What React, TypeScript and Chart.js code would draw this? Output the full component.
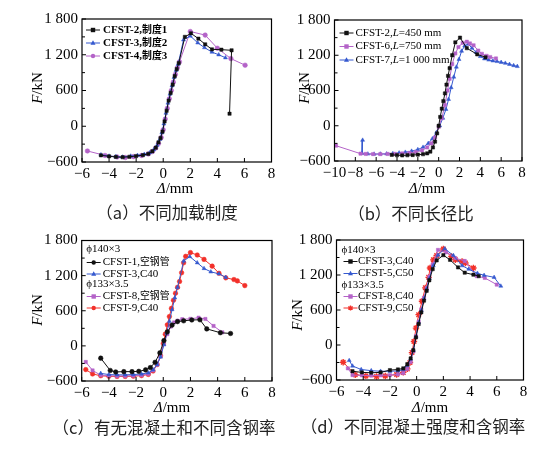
import React, { useEffect, useRef } from 'react';
import { Chart, registerables } from 'chart.js';

Chart.register(...registerables);

const SERIF = '"Liberation Serif", "Times New Roman", "Noto Sans CJK SC", serif';
const CJK = '"Noto Sans CJK SC", sans-serif';

const BLACK = '#111111';
const BLUE = '#3559cf';
const PURPLE = '#b463c8';
const RED = '#f2302a';

type Pt = [number, number];

// ---------- (a) 不同加载制度 ----------
const A_CFST2: Pt[] = [
  [-4.6, -488], [-4.0, -505], [-3.5, -515], [-3.0, -520], [-2.5, -512], [-2.0, -500], [-1.5, -485],
  [-1.1, -462], [-0.8, -420], [-0.55, -360], [-0.35, -270], [-0.2, -200], [-0.05, -90], [0.1, 80],
  [0.25, 260], [0.4, 430], [0.55, 560], [0.7, 700], [0.85, 840], [1.0, 960], [1.15, 1060],
  [1.6, 1500], [2.05, 1560], [2.6, 1470], [3.1, 1375], [3.6, 1290], [4.3, 1285], [5.05, 1275], [4.9, 210],
];
const A_CFST3: Pt[] = [
  [-4.6, -478], [-4.0, -500], [-3.5, -510], [-3.0, -515], [-2.4, -500], [-1.9, -488], [-1.4, -470],
  [-1.0, -445], [-0.7, -395], [-0.45, -320], [-0.25, -220], [-0.1, -110], [0.05, 40], [0.2, 220],
  [0.35, 390], [0.5, 540], [0.65, 680], [0.8, 820], [0.95, 940], [1.1, 1040], [1.5, 1450],
  [2.0, 1515], [2.55, 1400], [3.05, 1320], [3.6, 1245], [4.1, 1200], [4.6, 1150],
];
const A_CFST4: Pt[] = [
  [-5.6, -415], [-4.3, -490], [-3.4, -515], [-2.8, -525], [-2.2, -510], [-1.6, -490], [-1.1, -465],
  [-0.8, -425], [-0.55, -365], [-0.35, -290], [-0.15, -190], [0.0, -60], [0.15, 120], [0.3, 300],
  [0.45, 460], [0.6, 600], [0.75, 740], [0.9, 870], [1.05, 980], [1.2, 1080], [2.0, 1590],
  [3.1, 1530], [4.0, 1310], [5.0, 1135], [6.05, 1025],
];

// ---------- (b) 不同长径比 ----------
const B_CFST2: Pt[] = [
  [-4.5, -495], [-4.0, -502], [-3.5, -505], [-3.0, -502], [-2.5, -498], [-2.0, -492], [-1.5, -485],
  [-1.1, -470], [-0.8, -440], [-0.55, -370], [-0.35, -270], [-0.15, -130], [0.0, 0], [0.15, 150],
  [0.3, 290], [0.45, 420], [0.6, 550], [0.75, 700], [0.9, 850], [1.05, 980], [1.3, 1200],
  [1.6, 1420], [2.05, 1500], [2.7, 1320], [3.7, 1215], [4.5, 1165],
];
const B_CFST6: Pt[] = [
  [-9.85, -340], [-7.5, -475], [-7.0, -480], [-6.3, -482], [-5.6, -482], [-4.9, -480], [-4.2, -478],
  [-3.5, -472], [-2.8, -462], [-2.2, -448], [-1.6, -420], [-1.1, -370], [-0.7, -300], [-0.35, -200],
  [0.0, -20], [0.3, 130], [0.6, 350], [0.85, 600], [1.05, 800], [1.3, 1050], [1.6, 1230],
  [1.9, 1340], [2.3, 1410], [2.7, 1430], [3.0, 1400], [3.35, 1370], [3.8, 1280], [4.15, 1225],
  [4.6, 1190], [4.95, 1170], [5.5, 1145],
];
const B_CFST7: Pt[] = [
  [-7.3, -245], [-7.35, -470], [-6.8, -480], [-6.2, -482], [-5.6, -480], [-5.0, -478], [-4.4, -472],
  [-3.8, -462], [-3.2, -450], [-2.6, -432], [-2.0, -405], [-1.5, -365], [-1.0, -300], [-0.6, -220],
  [-0.2, -110], [0.1, 0], [0.4, 130], [0.7, 280], [0.95, 450], [1.2, 650], [1.45, 830], [1.7, 1000],
  [1.95, 1130], [2.2, 1270], [2.5, 1360], [2.85, 1390], [3.2, 1320], [3.6, 1250], [4.0, 1180],
  [4.4, 1140], [4.8, 1120], [5.2, 1105], [5.6, 1095], [6.0, 1080], [6.4, 1065], [6.8, 1045],
  [7.2, 1025], [7.55, 1010],
];

// ---------- (c) 有无混凝土和不同含钢率 ----------
const C_CFST1: Pt[] = [
  [-4.6, -210], [-3.9, -420], [-3.5, -445], [-2.9, -440], [-2.3, -440], [-1.8, -435], [-1.3, -410],
  [-0.95, -370], [-0.6, -280], [-0.25, -120], [0.05, 90], [0.3, 240], [0.65, 355], [1.05, 415],
  [1.5, 428], [2.1, 443], [2.7, 445], [3.2, 290], [4.2, 225], [4.95, 212],
];
const C_CFST3: Pt[] = [
  [-4.6, -470], [-4.0, -490], [-3.4, -495], [-2.8, -495], [-2.2, -490], [-1.6, -480], [-1.1, -460],
  [-0.75, -410], [-0.45, -320], [-0.2, -190], [0.05, 20], [0.25, 220], [0.45, 420], [0.65, 620],
  [0.85, 820], [1.05, 1000], [1.5, 1450], [1.95, 1525], [2.5, 1420], [3.0, 1322], [3.5, 1265],
  [4.1, 1230], [4.6, 1170],
];
const C_CFST8: Pt[] = [
  [-5.7, -275], [-5.2, -420], [-4.6, -500], [-4.0, -510], [-3.4, -515], [-2.8, -515], [-2.2, -510],
  [-1.6, -500], [-1.1, -480], [-0.75, -420], [-0.45, -320], [-0.2, -170], [0.05, 30], [0.3, 200],
  [0.55, 330], [0.8, 400], [1.05, 430], [1.4, 455], [2.0, 462], [2.6, 482], [3.1, 460], [3.7, 340],
  [4.35, 232],
];
const C_CFST9: Pt[] = [
  [-5.7, -405], [-5.2, -480], [-4.6, -510], [-4.0, -520], [-3.4, -522], [-2.8, -522], [-2.2, -518],
  [-1.6, -508], [-1.1, -488], [-0.75, -430], [-0.45, -320], [-0.2, -170], [0.0, 40], [0.15, 200],
  [0.3, 360], [0.45, 500], [0.6, 640], [0.75, 780], [0.9, 900], [1.05, 1000], [1.2, 1100],
  [1.35, 1250], [1.5, 1420], [1.65, 1530], [2.0, 1593], [2.5, 1552], [3.0, 1477], [3.6, 1362],
  [4.1, 1240], [4.6, 1162], [5.2, 1133], [5.45, 1110], [6.0, 1030],
];

// ---------- (d) 不同混凝土强度和含钢率 ----------
const D_CFST3: Pt[] = [
  [-4.8, -450], [-4.1, -470], [-3.4, -475], [-2.7, -470], [-2.0, -430], [-1.4, -420], [-1.0, -400],
  [-0.7, -330], [-0.45, -230], [-0.25, -90], [-0.05, 130], [0.15, 360], [0.35, 560], [0.55, 760],
  [0.75, 930], [0.95, 1110], [1.2, 1300], [1.5, 1450], [2.0, 1540], [2.5, 1460], [3.1, 1330],
  [3.6, 1240], [4.25, 1205], [4.65, 1180],
];
const D_CFST5: Pt[] = [
  [-5.05, -265], [-4.8, -360], [-4.15, -420], [-3.4, -440], [-2.7, -450], [-2.0, -450], [-1.4, -445],
  [-1.0, -420], [-0.7, -350], [-0.45, -240], [-0.25, -90], [-0.05, 140], [0.15, 380], [0.35, 590],
  [0.55, 790], [0.75, 960], [0.95, 1140], [1.25, 1360], [1.6, 1540], [2.1, 1650], [2.75, 1535],
  [3.4, 1360], [3.9, 1300], [4.55, 1230], [5.05, 1195], [5.8, 1160], [6.3, 1010],
];
const D_CFST8: Pt[] = [
  [-5.15, -400], [-4.8, -515], [-4.1, -520], [-3.4, -525], [-2.7, -520], [-2.0, -515], [-1.4, -505],
  [-1.0, -480], [-0.7, -410], [-0.45, -290], [-0.25, -110], [-0.05, 150], [0.15, 400], [0.35, 610],
  [0.55, 810], [0.75, 980], [0.95, 1170], [1.2, 1380], [1.6, 1630], [2.2, 1590], [2.9, 1490],
  [3.6, 1440], [4.5, 1180], [5.1, 1150], [6.0, 1035],
];
const D_CFST9: Pt[] = [
  [-5.5, -295], [-4.6, -510], [-3.8, -530], [-3.0, -540], [-2.35, -532], [-1.5, -505], [-1.0, -470],
  [-0.7, -410], [-0.5, -300], [-0.35, -130], [-0.2, 60], [-0.05, 290], [0.15, 520], [0.4, 750],
  [0.65, 980], [0.9, 1160], [1.0, 1320], [1.25, 1460], [1.5, 1535], [2.0, 1645], [2.6, 1520],
  [2.9, 1462], [3.4, 1433], [3.65, 1405], [4.25, 1320],
];

// ---------- tick / text values ----------
const Y_TICKS = [-600, 0, 600, 1200, 1800];
const X_STEP = 2;
const Y_TITLE = '_F_/kN';
const X_TITLE = '_Δ_/mm';
const CAPTIONS = ['（a）不同加载制度', '（b）不同长径比', '（c）有无混凝土和不同含钢率', '（d）不同混凝土强度和含钢率'];
const GROUP_C = ['ϕ140×3', 'ϕ133×3.5'];

interface SeriesDef { label: string; data: Pt[]; color: string; marker: string; radius?: number }
interface LegendDef { headerX: number; lineX: number; textX: number; rows: number[]; items: (string | number)[]; bold: boolean }
interface PanelDef {
  canvas: { left: number; top: number; w: number; h: number };
  area: { l: number; t: number; r: number; b: number };
  xMin: number; xMax: number;
  yTitle: { x: number; y: number };
  xTitle: { x: number; y: number };
  series: SeriesDef[];
  legend: LegendDef;
}

const PANELS: PanelDef[] = [
  {
    canvas: { left: 0, top: 0, w: 282, h: 225 },
    area: { l: 82, t: 19, r: 271.5, b: 162 },
    xMin: -6, xMax: 8,
    yTitle: { x: 38, y: 88 }, xTitle: { x: 175, y: 189 },
    series: [
      { label: 'CFST-2,制度1', data: A_CFST2, color: BLACK, marker: 'rect' },
      { label: 'CFST-3,制度2', data: A_CFST3, color: BLUE, marker: 'triangle' },
      { label: 'CFST-4,制度3', data: A_CFST4, color: PURPLE, marker: 'circle' },
    ],
    legend: { headerX: 4, lineX: 4, textX: 21, rows: [11, 24, 37], items: [0, 1, 2], bold: true },
  },
  {
    canvas: { left: 273, top: 0, w: 257, h: 225 },
    area: { l: 334.5, t: 20, r: 522, b: 161 },
    xMin: -10, xMax: 8,
    yTitle: { x: 304.7, y: 88 }, xTitle: { x: 427, y: 189 },
    series: [
      { label: 'CFST-2,_L_=450 mm', data: B_CFST2, color: BLACK, marker: 'rect' },
      { label: 'CFST-6,_L_=750 mm', data: B_CFST6, color: PURPLE, marker: 'rect' },
      { label: 'CFST-7,_L_=1 000 mm', data: B_CFST7, color: BLUE, marker: 'triangle' },
    ],
    legend: { headerX: 5, lineX: 5, textX: 21, rows: [13, 26.5, 40], items: [0, 1, 2], bold: false },
  },
  {
    canvas: { left: 0, top: 225, w: 282, h: 224 },
    area: { l: 81.7, t: 240.5, r: 272, b: 381 },
    xMin: -6, xMax: 8,
    yTitle: { x: 38, y: 310 }, xTitle: { x: 172, y: 408 },
    series: [
      { label: 'CFST-1,空钢管', data: C_CFST1, color: BLACK, marker: 'circle' },
      { label: 'CFST-3,C40', data: C_CFST3, color: BLUE, marker: 'triangle' },
      { label: 'CFST-8,空钢管', data: C_CFST8, color: PURPLE, marker: 'rect' },
      { label: 'CFST-9,C40', data: C_CFST9, color: RED, marker: 'circle' },
    ],
    legend: { headerX: 4.5, lineX: 5, textX: 21, rows: [9, 22, 33.5, 44, 56, 67.5], items: [GROUP_C[0], 0, 1, GROUP_C[1], 2, 3], bold: false },
  },
  {
    canvas: { left: 273, top: 225, w: 273, h: 224 },
    area: { l: 336.5, t: 240, r: 523.5, b: 380 },
    xMin: -6, xMax: 8,
    yTitle: { x: 298, y: 315 }, xTitle: { x: 430, y: 408 },
    series: [
      { label: 'CFST-3,C40', data: D_CFST3, color: BLACK, marker: 'rect' },
      { label: 'CFST-5,C50', data: D_CFST5, color: BLUE, marker: 'triangle' },
      { label: 'CFST-8,C40', data: D_CFST8, color: PURPLE, marker: 'rect' },
      { label: 'CFST-9,C50', data: D_CFST9, color: RED, marker: 'star', radius: 3.2 },
    ],
    legend: { headerX: 5, lineX: 7, textX: 21.5, rows: [10, 21.5, 33.5, 45, 56.5, 68], items: [GROUP_C[0], 0, 1, GROUP_C[1], 2, 3], bold: false },
  },
];

const CAPTION_POS = [
  { x: 167, y: 212 },
  { x: 411, y: 213 },
  { x: 164, y: 427 },
  { x: 413, y: 426 },
];

function fmtNum(v: number): string {
  const a = Math.abs(v);
  let s = String(a);
  if (a >= 1000) s = s.slice(0, s.length - 3) + ' ' + s.slice(s.length - 3);
  return (v < 0 ? '−' : '') + s;
}

// text runs: '_' toggles italic; CJK runs are drawn slightly smaller
function drawRich(ctx: CanvasRenderingContext2D, text: string, x: number, y: number, size: number, align: 'left' | 'center', bold = false) {
  const runs: { t: string; font: string }[] = [];
  text.split('_').forEach((part, i) => {
    part.split(/([\u4e00-\u9fff]+)/).forEach((seg) => {
      if (!seg) return;
      const isCjk = /[\u4e00-\u9fff]/.test(seg);
      const sz = isCjk ? size * 0.9 : size;
      runs.push({ t: seg, font: `${i % 2 ? 'italic ' : ''}${bold ? 'bold ' : ''}${sz}px ${SERIF}` });
    });
  });
  const widths = runs.map((r) => { ctx.font = r.font; return ctx.measureText(r.t).width; });
  const total = widths.reduce((a, b) => a + b, 0);
  let cx = align === 'center' ? x - total / 2 : x;
  ctx.textAlign = 'left';
  ctx.textBaseline = 'middle';
  runs.forEach((r, i) => { ctx.font = r.font; ctx.fillText(r.t, cx, y); cx += widths[i]; });
}

function drawMarker(ctx: CanvasRenderingContext2D, style: string, x: number, y: number, r: number) {
  ctx.beginPath();
  if (style === 'rect') {
    ctx.rect(x - r, y - r, 2 * r, 2 * r);
    ctx.fill();
  } else if (style === 'triangle') {
    const h = r * 1.2;
    ctx.moveTo(x, y - h);
    ctx.lineTo(x + h * 0.95, y + h * 0.7);
    ctx.lineTo(x - h * 0.95, y + h * 0.7);
    ctx.closePath();
    ctx.fill();
  } else if (style === 'star') {
    for (let k = 0; k < 3; k++) {
      const ang = (k * Math.PI) / 3 + Math.PI / 2;
      ctx.moveTo(x + Math.cos(ang) * r, y + Math.sin(ang) * r);
      ctx.lineTo(x - Math.cos(ang) * r, y - Math.sin(ang) * r);
    }
    ctx.lineWidth = 1.4;
    ctx.stroke();
  } else {
    ctx.arc(x, y, r, 0, Math.PI * 2);
    ctx.fill();
  }
}

function makeOverlay(p: PanelDef) {
  return {
    id: 'overlay',
    afterDraw(chart: any) {
      const { ctx, chartArea: a, scales } = chart;
      const ox = p.canvas.left, oy = p.canvas.top;
      ctx.save();
      ctx.strokeStyle = '#000';
      ctx.fillStyle = '#000';
      ctx.lineWidth = 1.2;
      ctx.strokeRect(a.left, a.top, a.right - a.left, a.bottom - a.top);
      ctx.lineWidth = 1;
      for (let v = Y_TICKS[0]; v <= Y_TICKS[Y_TICKS.length - 1]; v += 300) {
        const py = scales.y.getPixelForValue(v);
        const len = v % 600 === 0 ? 4 : 3;
        ctx.beginPath(); ctx.moveTo(a.left, py); ctx.lineTo(a.left + len, py); ctx.stroke();
      }
      for (let v = p.xMin; v <= p.xMax; v += X_STEP) {
        const px = scales.x.getPixelForValue(v);
        ctx.beginPath(); ctx.moveTo(px, a.bottom); ctx.lineTo(px, a.bottom - 4); ctx.stroke();
      }
      // axis titles
      ctx.fillStyle = '#000';
      drawRich(ctx, X_TITLE, p.xTitle.x - ox, p.xTitle.y - oy, 15, 'center');
      ctx.save();
      ctx.translate(p.yTitle.x - ox, p.yTitle.y - oy);
      ctx.rotate(-Math.PI / 2);
      drawRich(ctx, Y_TITLE, 0, 0, 15, 'center');
      ctx.restore();
      // legend
      const lg = p.legend;
      lg.items.forEach((it, i) => {
        const y = a.top + lg.rows[i];
        if (typeof it === 'string') {
          ctx.fillStyle = '#000';
          drawRich(ctx, it, a.left + lg.headerX, y, 11, 'left', lg.bold);
        } else {
          const s = p.series[it];
          ctx.strokeStyle = s.color;
          ctx.fillStyle = s.color;
          ctx.lineWidth = 1;
          ctx.beginPath();
          ctx.moveTo(a.left + lg.lineX, y);
          ctx.lineTo(a.left + lg.lineX + 14, y);
          ctx.stroke();
          drawMarker(ctx, s.marker, a.left + lg.lineX + 7, y, s.radius ? s.radius - 0.6 : 2.2);
          ctx.fillStyle = '#000';
          drawRich(ctx, s.label, a.left + lg.textX, y, 11, 'left', lg.bold);
        }
      });
      ctx.restore();
    },
  };
}

function Panel({ p }: { p: PanelDef }) {
  const ref = useRef<HTMLCanvasElement | null>(null);
  useEffect(() => {
    const canvas = ref.current;
    if (!canvas) return;
    const yW = p.area.l - p.canvas.left;
    const xH = p.canvas.top + p.canvas.h - p.area.b;
    const tickFont = { family: SERIF, size: 15 };
    const chart = new Chart(canvas, {
      type: 'scatter',
      data: {
        datasets: p.series.map((s) => ({
          label: s.label,
          data: s.data.map(([x, y]) => ({ x, y })),
          showLine: true,
          borderColor: s.color,
          backgroundColor: s.color,
          borderWidth: 1,
          pointStyle: s.marker as any,
          pointRadius: s.radius ?? 2.3,
          pointBorderWidth: s.marker === 'star' ? 1.4 : 0.5,
          pointBorderColor: s.color,
          pointBackgroundColor: s.color,
          tension: 0,
        })),
      },
      options: {
        animation: false,
        responsive: false,
        maintainAspectRatio: false,
        devicePixelRatio: 1,
        events: [],
        layout: { padding: { top: p.area.t - p.canvas.top, right: p.canvas.left + p.canvas.w - p.area.r, left: 0, bottom: 0 } },
        plugins: { legend: { display: false }, tooltip: { enabled: false }, title: { display: false } },
        scales: {
          x: {
            type: 'linear',
            min: p.xMin,
            max: p.xMax,
            grid: { display: false, drawTicks: false },
            border: { display: false },
            ticks: { stepSize: X_STEP, padding: 3, color: '#000', font: tickFont, autoSkip: false, maxRotation: 0, callback: (v: any) => fmtNum(Number(v)) },
            afterFit: (s: any) => { s.height = xH; },
          },
          y: {
            type: 'linear',
            min: Y_TICKS[0],
            max: Y_TICKS[Y_TICKS.length - 1],
            grid: { display: false, drawTicks: false },
            border: { display: false },
            ticks: { stepSize: 600, padding: 4, color: '#000', font: tickFont, autoSkip: false, callback: (v: any) => fmtNum(Number(v)) },
            afterFit: (s: any) => { s.width = yW; },
          },
        },
      } as any,
      plugins: [makeOverlay(p)],
    });
    return () => chart.destroy();
  }, [p]);
  return (
    <canvas
      ref={ref}
      width={p.canvas.w}
      height={p.canvas.h}
      style={{ position: 'absolute', left: p.canvas.left, top: p.canvas.top, width: p.canvas.w, height: p.canvas.h }}
    />
  );
}

export default function App() {
  return (
    <div style={{ position: 'absolute', left: 0, top: 0, width: 546, height: 449, background: '#fff', overflow: 'hidden' }}>
      {PANELS.map((p, i) => <Panel key={i} p={p} />)}
      {CAPTIONS.map((c, i) => (
        <div
          key={'c' + i}
          style={{
            position: 'absolute', left: CAPTION_POS[i].x, top: CAPTION_POS[i].y, transform: 'translate(-50%, -50%)',
            whiteSpace: 'nowrap', font: `16.5px ${CJK}`, color: '#222', lineHeight: '20px',
          }}
        >
          {c}
        </div>
      ))}
    </div>
  );
}
